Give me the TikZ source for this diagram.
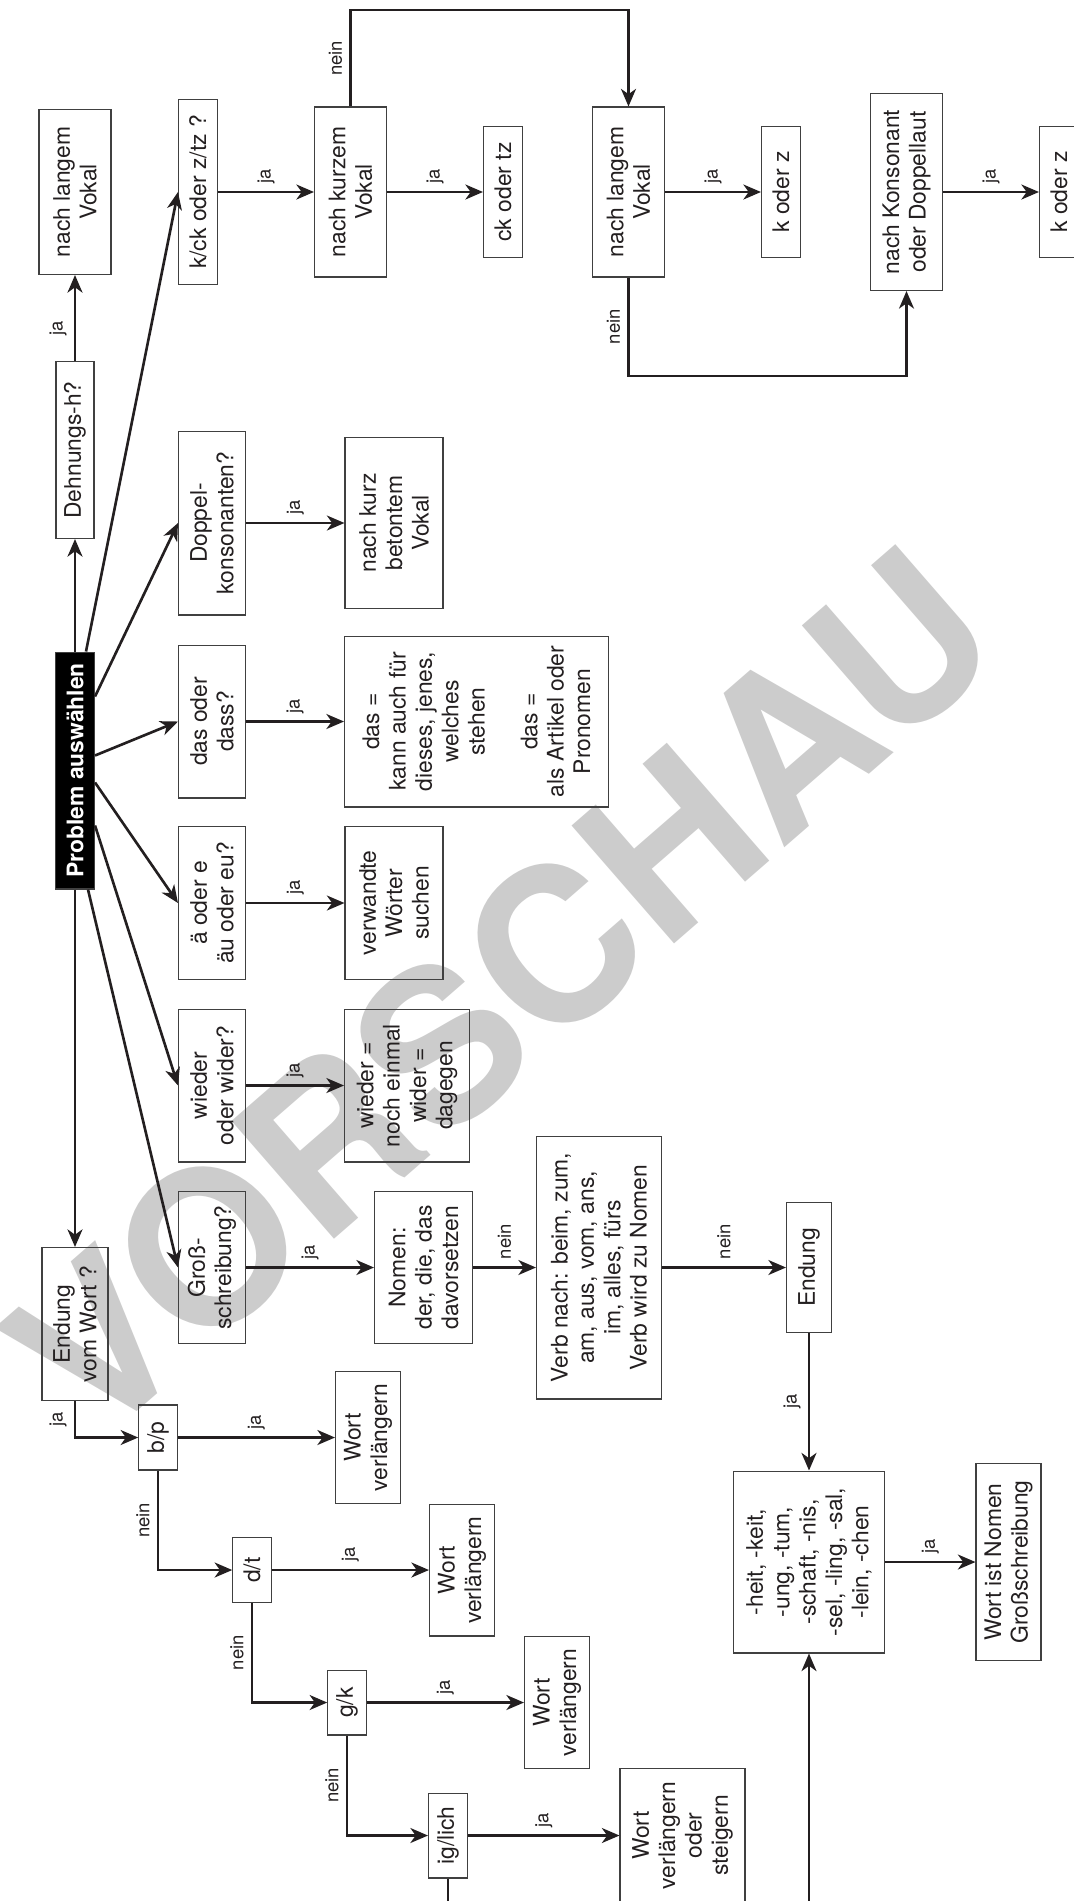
\documentclass[tikz,border=0pt]{standalone}
\usepackage{fontspec}
\setmainfont{TeX Gyre Heros}
\usepackage{tikz}
\usetikzlibrary{arrows.meta}
\usetikzlibrary{calc}
\definecolor{ink}{RGB}{35,31,32}
\definecolor{wmgray}{RGB}{204,204,204}

\begin{document}
\begin{tikzpicture}[x=0.02cm,y=-0.02cm]%% Rechtschreibung
                \tikzstyle{box} = [draw=black!75, line width=0.6pt, rotate=90, align=center, inner sep=0pt, text=ink, font=\fontsize{13}{15}\selectfont]
                \tikzstyle{arr} = [draw=ink, line width=1.5pt, -{Stealth[length=10pt,width=8.5pt,inset=3pt]}]
                \tikzstyle{lbl} = [rotate=90, inner sep=4pt, text=ink, font=\fontsize{10.5}{12}\selectfont]
                \useasboundingbox (0,0) rectangle (1073,1901);

                \node [rotate=41, text=wmgray, font=\fontsize{122}{122}\selectfont\bfseries](vorschau) at (500,992) {VORSCHAU};

                \node [box, minimum width=4.74cm, minimum height=0.78cm, fill=black, text=white, font=\fontsize{13}{15}\selectfont\bfseries](problem) at (75,770.5) {Problem auswählen};
                \node [box, minimum width=3.54cm, minimum height=0.76cm](dehn) at (75,450) {Dehnungs-h?};
                \node [box, minimum width=3.30cm, minimum height=1.44cm](nachlang1) at (75,192) {nach langem\\Vokal};
                \node [box, minimum width=3.70cm, minimum height=0.78cm](kck) at (198,192) {k/ck oder z/tz ?};
                \node [box, minimum width=3.40cm, minimum height=1.44cm](nachkurz) at (350.5,192) {nach kurzem\\Vokal};
                \node [box, minimum width=2.62cm, minimum height=0.78cm](ckodertz) at (503,192) {ck oder tz};
                \node [box, minimum width=3.40cm, minimum height=1.44cm](nachlang2) at (628.5,192) {nach langem\\Vokal};
                \node [box, minimum width=2.62cm, minimum height=0.78cm](kodz2) at (781,192) {k oder z};
                \node [box, minimum width=3.94cm, minimum height=1.44cm](nachkons) at (906.5,192) {nach Konsonant\\oder Doppellaut};
                \node [box, minimum width=2.62cm, minimum height=0.78cm](kodz3) at (1059,192) {k oder z};

                \node [box, minimum width=3.68cm, minimum height=1.34cm](doppel) at (212,523) {Doppel-\\konsonanten?};
                \node [box, minimum width=3.42cm, minimum height=1.96cm](kurzbet) at (394,523) {nach kurz\\betontem\\Vokal};
                \node [box, minimum width=3.06cm, minimum height=1.34cm](dasdass) at (212,721.5) {das oder\\dass?};
                \node [box, minimum width=3.42cm, minimum height=5.28cm](dasbox) at (476.5,721.5) {das =\\kann auch für\\dieses, jenes,\\welches\\stehen\\[15pt]das =\\als Artikel oder\\Pronomen};
                \node [box, minimum width=3.06cm, minimum height=1.34cm](aeoder) at (212,903) {ä oder e\\äu oder eu?};
                \node [box, minimum width=3.06cm, minimum height=1.96cm](verwandte) at (394,903) {verwandte\\Wörter\\suchen};
                \node [box, minimum width=3.06cm, minimum height=1.34cm](wieder) at (212,1085.5) {wieder\\oder wider?};
                \node [box, minimum width=3.06cm, minimum height=2.50cm](wiedernoch) at (407,1085.5) {wieder =\\noch einmal\\wider =\\dagegen};

                \node [box, minimum width=3.04cm, minimum height=1.34cm](gross) at (212,1267.5) {Groß-\\schreibung?};
                \node [box, minimum width=3.04cm, minimum height=1.96cm](nomen) at (423.5,1267.5) {Nomen:\\der, die, das\\davorsetzen};
                \node [box, minimum width=5.26cm, minimum height=2.50cm](verb) at (599,1267.5) {Verb nach: beim, zum,\\am, aus, vom, ans,\\im, alles, fürs\\Verb wird zu Nomen};
                \node [box, minimum width=2.60cm, minimum height=0.90cm](endung) at (809,1267.5) {Endung};
                \node [box, minimum width=3.64cm, minimum height=3.02cm](heit) at (809,1562) {-heit, -keit,\\-ung, -tum,\\-schaft, -nis,\\-sel, -ling, -sal,\\-lein, -chen};
                \node [box, minimum width=3.94cm, minimum height=1.30cm](wortnomen) at (1008.5,1562) {Wort ist Nomen\\Großschreibung};

                \node [box, minimum width=3.06cm, minimum height=1.32cm](endwort) at (75,1324) {Endung\\vom Wort ?};
                \node [box, minimum width=1.30cm, minimum height=0.77cm](bp) at (158,1437.5) {b/p};
                \node [box, minimum width=2.64cm, minimum height=1.30cm](wv1) at (368,1437.5) {Wort\\verlängern};
                \node [box, minimum width=1.30cm, minimum height=0.77cm](dt) at (252,1570) {d/t};
                \node [box, minimum width=2.64cm, minimum height=1.30cm](wv2) at (462,1570) {Wort\\verlängern};
                \node [box, minimum width=1.30cm, minimum height=0.77cm](gk) at (347,1702.5) {g/k};
                \node [box, minimum width=2.64cm, minimum height=1.30cm](wv3) at (557,1702.5) {Wort\\verlängern};
                \node [box, minimum width=1.70cm, minimum height=0.78cm](iglich) at (448,1835.5) {ig/lich};
                \node [box, minimum width=2.68cm, minimum height=2.50cm](wvos) at (682.5,1835.5) {Wort\\verlängern\\oder\\steigern};

                \coordinate (topline) at (0,10);
                \coordinate (botline) at (0,376);
                \coordinate (offpage) at (0,1910);
                \coordinate (heitin) at (809,1910);

                \draw[arr] (problem.east) -- (dehn.west);
                \draw[arr] (dehn.east) -- node[lbl, anchor=south, pos=0.38]{ja} (nachlang1.west);
                \draw[arr] (problem.west) -- (endwort.east);
                \draw[arr] ($(problem.east)+(11,0)$) -- (kck.north);
                \draw[arr] ($(problem.west)+(13,0)$) -- (gross.north);
                \foreach \b/\o in {doppel/-74, dasdass/-15, aeoder/12, wieder/55}{
                        \draw[arr] ($(problem.south)+(0,\o)$) -- (\b.north);
                }

                \foreach \a/\b/\t in {kck/nachkurz/ja, nachkurz/ckodertz/ja, nachlang2/kodz2/ja, nachkons/kodz3/ja,
                        doppel/kurzbet/ja, dasdass/dasbox/ja, aeoder/verwandte/ja, wieder/wiedernoch/ja,
                        gross/nomen/ja, nomen/verb/nein, verb/endung/nein, heit/wortnomen/ja,
                        bp/wv1/ja, dt/wv2/ja, gk/wv3/ja, iglich/wvos/ja}{
                        \draw[arr] (\a) -- node[lbl, anchor=west]{\t} (\b);
                }

                \draw[arr] (nachkurz.east) -- node[lbl, anchor=south]{nein} (nachkurz.east |- topline) -| (nachlang2.east);
                \draw[arr] (nachlang2.west) -- node[lbl, anchor=south]{nein} (nachlang2.west |- botline) -| (nachkons.west);

                \draw[arr] (endwort.west) |- node[lbl, anchor=south, pos=0.25]{ja} (bp.north);
                \draw[arr] (bp.west) |- node[lbl, anchor=south, pos=0.25]{nein} (dt.north);
                \draw[arr] (dt.west) |- node[lbl, anchor=south, pos=0.25]{nein} (gk.north);
                \draw[arr] (gk.west) |- node[lbl, anchor=south, pos=0.25]{nein} (iglich.north);
                \draw[draw=ink, line width=1.5pt] (iglich.west) -- (iglich.west |- offpage);

                \draw[arr] (endung.west) -- node[lbl, anchor=south]{ja} (heit.east);
                \draw[arr] (heitin) -- (heit.west);
\end{tikzpicture}
\end{document}
